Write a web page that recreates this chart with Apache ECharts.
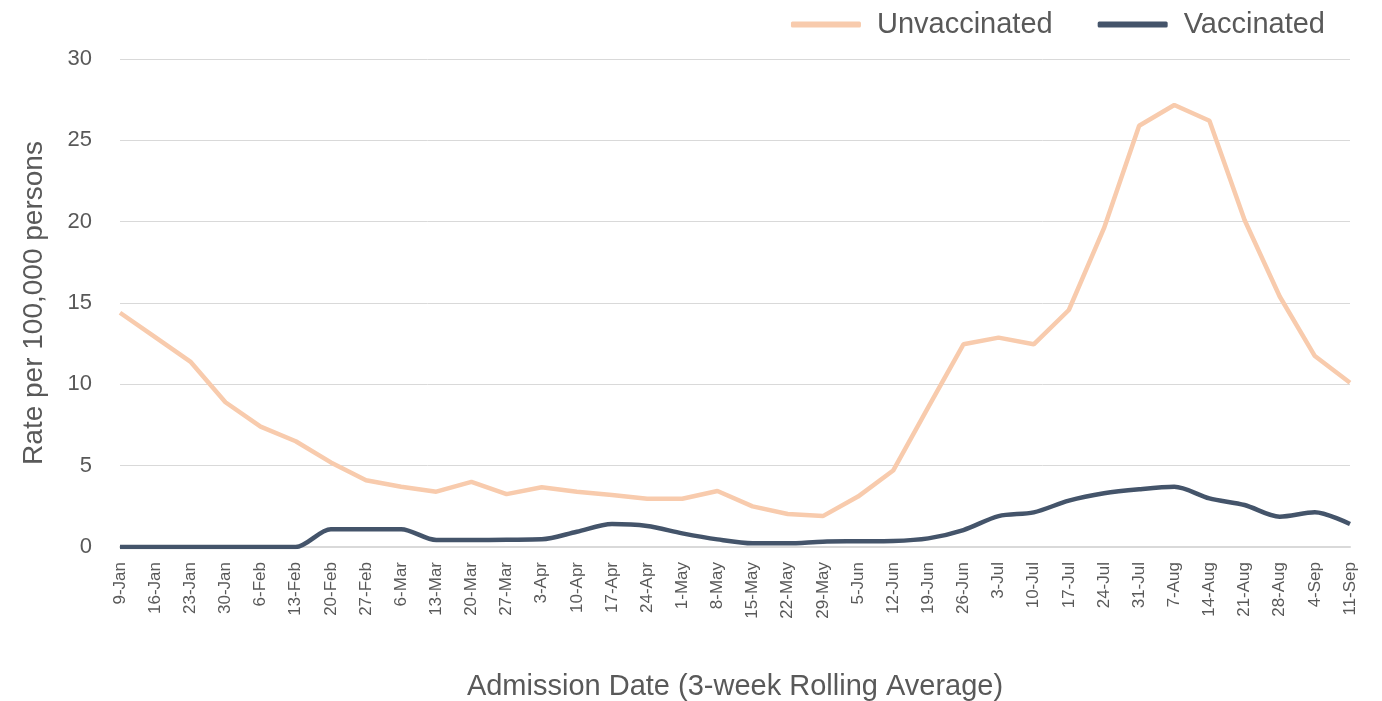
<!DOCTYPE html>
<html>
<head>
<meta charset="utf-8">
<script src="https://cdn.jsdelivr.net/npm/echarts@6/dist/echarts.min.js"></script>
<style>
html,body{margin:0;padding:0;background:#fff;}
#chart{width:1382px;height:701px;}
</style>
</head>
<body>
<div id="chart"></div>
<script>
const categories = ['9-Jan','16-Jan','23-Jan','30-Jan','6-Feb','13-Feb','20-Feb','27-Feb','6-Mar','13-Mar','20-Mar','27-Mar','3-Apr','10-Apr','17-Apr','24-Apr','1-May','8-May','15-May','22-May','29-May','5-Jun','12-Jun','19-Jun','26-Jun','3-Jul','10-Jul','17-Jul','24-Jul','31-Jul','7-Aug','14-Aug','21-Aug','28-Aug','4-Sep','11-Sep'];
const unvaccinated = [14.4,12.9,11.4,8.9,7.4,6.5,5.2,4.1,3.7,3.4,4.0,3.25,3.67,3.4,3.2,2.97,2.97,3.44,2.5,2.03,1.9,3.1,4.7,8.6,12.46,12.87,12.46,14.57,19.6,25.9,27.17,26.2,20.1,15.4,11.74,10.1];
const vaccinated = [0,0,0,0,0,0,1.09,1.09,1.09,0.43,0.43,0.45,0.47,0.94,1.41,1.29,0.84,0.47,0.23,0.23,0.33,0.35,0.37,0.53,1.04,1.9,2.13,2.85,3.3,3.55,3.7,2.99,2.58,1.86,2.13,1.41];
const yTicks = {min:0, max:30, interval:5};

const FONT = '"Liberation Sans", "DejaVu Sans", sans-serif';
const chart = echarts.init(document.getElementById('chart'), null, {renderer:'canvas'});
chart.setOption({
  backgroundColor:'#ffffff',
  animation:false,
  textStyle:{fontFamily:FONT},
  legend:{
    right:52, top:5,
    itemWidth:70, itemHeight:6, itemGap:45,
    icon:'roundRect',
    textStyle:{fontSize:29, color:'#595959', fontFamily:FONT, padding:[0,0,0,11]},
    data:['Unvaccinated','Vaccinated']
  },
  grid:{left:120, right:32, top:59, bottom:154, containLabel:false, outerBoundsMode:'none'},
  xAxis:{
    type:'category',
    data:categories,
    boundaryGap:false,
    axisLine:{show:true, lineStyle:{color:'#d9d9d9', width:2}},
    axisTick:{show:false},
    axisLabel:{rotate:90, fontSize:17, color:'#595959', margin:15, interval:0, fontFamily:FONT},
    name:'Admission Date (3-week Rolling Average)',
    nameLocation:'middle', nameGap:125,
    nameTextStyle:{fontSize:29, color:'#595959', fontFamily:FONT}
  },
  yAxis:{
    type:'value',
    min:yTicks.min, max:yTicks.max, interval:yTicks.interval,
    axisLine:{show:false},
    axisTick:{show:false},
    splitLine:{lineStyle:{color:'#d9d9d9', width:1}},
    axisLabel:{fontSize:22, color:'#595959', margin:28, fontFamily:FONT},
    name:'Rate per 100,000 persons',
    nameLocation:'middle', nameGap:72, nameRotate:90,
    nameTextStyle:{fontSize:28, color:'#595959', fontFamily:FONT}
  },
  series:[
    {name:'Unvaccinated', type:'line', data:unvaccinated, symbol:'none',
     lineStyle:{color:'#F8CBAD', width:4.5}, itemStyle:{color:'#F8CBAD'}},
    {name:'Vaccinated', type:'line', data:vaccinated, symbol:'none', smooth:0.3,
     lineStyle:{color:'#44546A', width:4.5}, itemStyle:{color:'#44546A'}}
  ]
});
</script>
</body>
</html>
